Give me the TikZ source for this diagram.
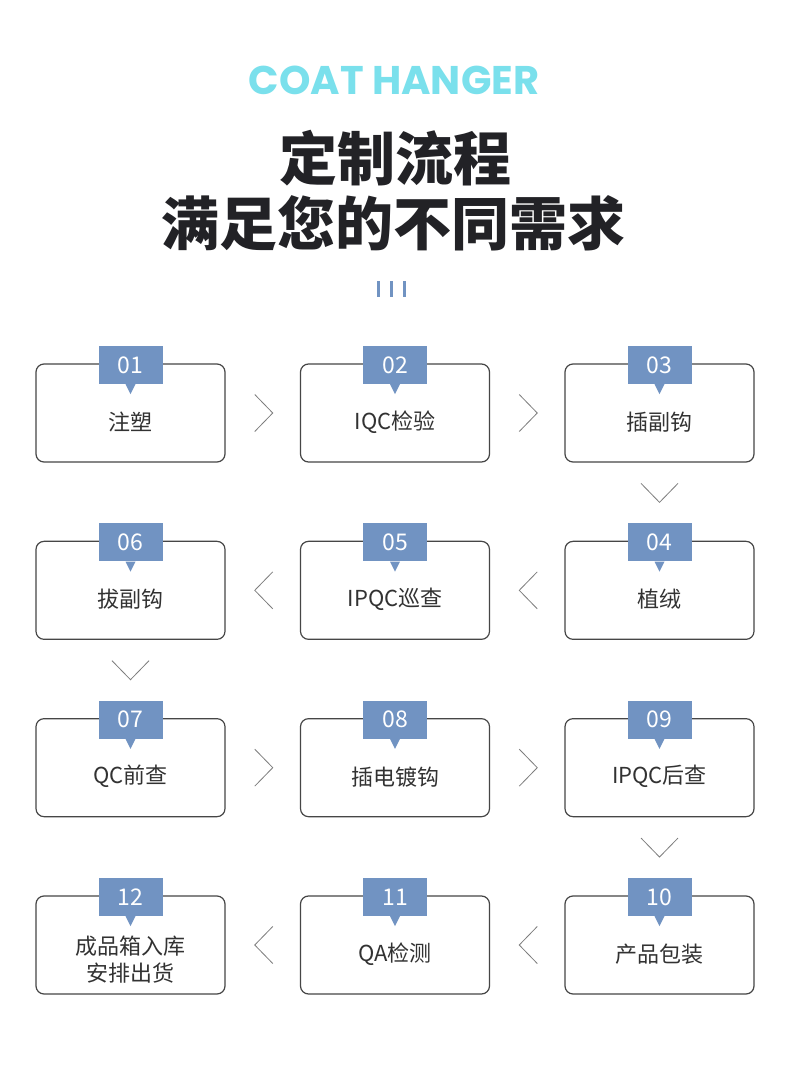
\documentclass[tikz,border=0pt]{standalone}
\usepackage{fontspec}
\setmainfont{Noto Sans CJK SC}
\newfontfamily\popfont{Poppins}
\usetikzlibrary{calc}
\definecolor{hdrcyan}{RGB}{122,224,236}
\definecolor{tagblue}{RGB}{113,147,194}
\definecolor{boxgray}{RGB}{70,70,70}
\definecolor{textgray}{RGB}{50,50,50}
\definecolor{chevgray}{RGB}{125,125,125}
\definecolor{titlecol}{RGB}{34,34,38}
\begin{document}
\begin{tikzpicture}[x=1pt,y=-1pt,
  stepbox/.style={draw=boxgray, line width=1.2pt, rounded corners=8pt, minimum width=189pt, minimum height=98pt, inner sep=0pt},
  tagbox/.style={fill=tagblue, minimum width=64pt, minimum height=38pt, inner sep=0pt, text=white, font=\fontsize{23}{23}\selectfont},
  steptext/.style={text=textgray, font=\fontsize{22}{27}\selectfont, align=center, inner sep=0pt},
  chev/.style={draw=chevgray, line width=0.8pt},
  chevr/.pic={\draw[chev] (-8,-18.5) -- (10,0) -- (-8,18.5);},
  chevl/.pic={\draw[chev] (10,-18.5) -- (-8,0) -- (10,18.5);},
  chevd/.pic={\draw[chev] (-18.5,-9.5) -- (0,9.5) -- (18.5,-9.5);}]
\useasboundingbox (0,0) rectangle (790,1068);
\fill[white] (0,0) rectangle (790,1068);

% header
\node[text=hdrcyan, font=\popfont\bfseries\fontsize{40}{40}\selectfont, inner sep=0pt] (hdr) at (394,80) {COAT HANGER};
\node[text=titlecol, font=\bfseries\fontsize{58}{58}\selectfont, inner sep=0pt] (ttlA) at (395,158) {定制流程};
\node[text=titlecol, font=\bfseries\fontsize{58}{58}\selectfont, inner sep=0pt] (ttlB) at (393,223) {满足您的不同需求};
\foreach \bx in {378,391,404}{
  \fill[tagblue] (\bx-1.5,281) rectangle (\bx+1.5,297);
}

% steps
\foreach \n/\num/\c/\r/\dy/\t in {
  1/01/1/1/9/{注塑},
  2/02/2/1/9/{IQC检验},
  3/03/3/1/9/{插副钩},
  4/04/3/2/9/{植绒},
  5/05/2/2/9/{IPQC巡查},
  6/06/1/2/9/{拔副钩},
  7/07/1/3/9/{QC前查},
  8/08/2/3/9/{插电镀钩},
  9/09/3/3/9/{IPQC后查},
  10/10/3/4/9/{产品包装},
  11/11/2/4/9/{QA检测},
  12/12/1/4/15/{成品箱入库\\安排出货}}{
  \pgfmathsetmacro\cx{130.5+(\c-1)*264.5}
  \pgfmathsetmacro\cy{413+(\r-1)*177.33}
  \node[stepbox] (b\n) at (\cx,\cy) {};
  \node[tagbox] (g\n) at (\cx,\cy-48) {\num};
  \fill[tagblue] ([xshift=-5pt]g\n.south) -- ([xshift=5pt]g\n.south) -- ([yshift=-10pt]g\n.south) -- cycle;
  \node[steptext] (t\n) at (\cx,\cy+\dy) {\t};
}

% chevrons between steps
\pic at ($(b1.east)!0.5!(b2.west)$) {chevr};
\pic at ($(b2.east)!0.5!(b3.west)$) {chevr};
\pic at ($(b3.south)!0.5!(g4.north)$) {chevd};
\pic at ($(b4.west)!0.5!(b5.east)$) {chevl};
\pic at ($(b5.west)!0.5!(b6.east)$) {chevl};
\pic at ($(b6.south)!0.5!(g7.north)$) {chevd};
\pic at ($(b7.east)!0.5!(b8.west)$) {chevr};
\pic at ($(b8.east)!0.5!(b9.west)$) {chevr};
\pic at ($(b9.south)!0.5!(g10.north)$) {chevd};
\pic at ($(b10.west)!0.5!(b11.east)$) {chevl};
\pic at ($(b11.west)!0.5!(b12.east)$) {chevl};
\end{tikzpicture}
\end{document}
